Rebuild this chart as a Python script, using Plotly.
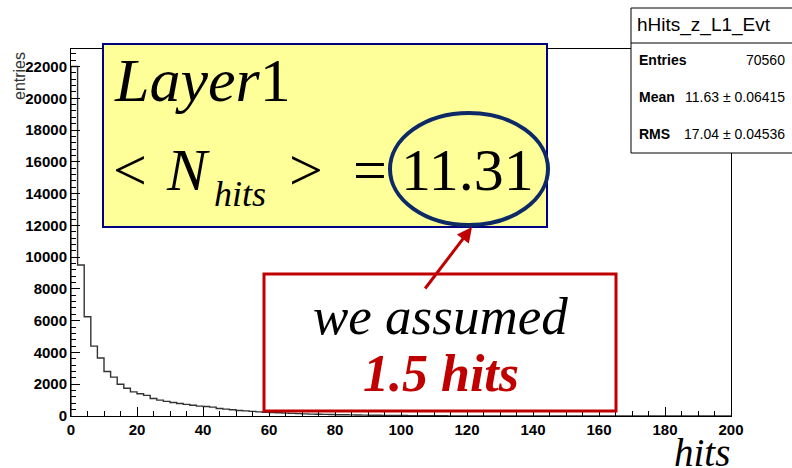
import numpy as np
import plotly.graph_objects as go

# ---------------- data ----------------
bin_width = 2
counts = [22000, 9500, 6250, 4400, 3650, 2800, 2450, 2000, 1750, 1520,
          1400, 1300, 1100, 1000, 920, 850, 790, 730, 680, 620,
          600, 560, 470, 430, 390, 350, 320, 290, 260, 240,
          220, 200, 180, 165, 150, 135, 120, 110, 100, 90,
          82, 75, 68, 62, 56, 50, 45, 40, 36, 32,
          28, 25, 22, 20, 18, 15, 13, 11, 10, 8,
          7, 6, 5, 4, 4, 3, 3, 2, 2, 2,
          1, 1, 1, 1, 1, 0, 0, 0, 0, 0,
          0, 0, 0, 0, 0, 0, 0, 0, 0, 0,
          0, 0, 0, 0, 0, 0, 0, 0, 0, 0]
edges = [i * bin_width for i in range(len(counts) + 1)]
x_ticks = [0, 20, 40, 60, 80, 100, 120, 140, 160, 180, 200]
y_ticks = [0, 2000, 4000, 6000, 8000, 10000, 12000, 14000, 16000,
           18000, 20000, 22000]
stats_title = "hHits_z_L1_Evt"
stats_rows = [("Entries", "70560"), ("Mean", "11.63 ± 0.06415"),
              ("RMS", "17.04 ± 0.04536")]
ymax = max(counts) * 1.05

# ---------------- layout helpers (pixel -> paper) ----------------
W, H = 792, 468
L, R, T, B = 71, 61, 49, 52
PW, PH = W - L - R, H - T - B
def px(x):
    return (x - L) / PW
def py(y):
    return (H - B - y) / PH

SERIF = "Liberation Serif, Times New Roman, serif"
SANS = "Liberation Sans, Arial, sans-serif"

# histogram outline: step drawn from the bin edges and counts
step_x = [edges[0]] + edges
step_y = [0] + counts + [counts[-1]]

fig = go.Figure()
fig.add_trace(go.Scatter(
    x=step_x, y=step_y,
    mode="lines", line=dict(color="#333333", width=1.4, shape="hv"),
    hoverinfo="skip", showlegend=False, cliponaxis=False))

fig.update_layout(
    width=W, height=H,
    margin=dict(l=L, r=R, t=T, b=B),
    paper_bgcolor="white", plot_bgcolor="white",
    showlegend=False,
    xaxis=dict(range=[0, 200], tickvals=x_ticks, ticktext=[str(v) for v in x_ticks],
               ticks="inside", ticklen=9, tickwidth=1, tickcolor="black",
               minor=dict(ticks="inside", dtick=5, ticklen=5, tickcolor="black"),
               showline=True, linecolor="black", linewidth=1, mirror=True,
               showgrid=False, zeroline=False,
               tickfont=dict(family=SANS, size=15, color="black", weight="bold")),
    yaxis=dict(range=[0, ymax], tickvals=y_ticks, ticktext=[str(v) for v in y_ticks],
               ticks="inside", ticklen=9, tickwidth=1, tickcolor="black",
               minor=dict(ticks="inside", dtick=400, ticklen=5, tickcolor="black"),
               showline=True, linecolor="black", linewidth=1, mirror=True,
               showgrid=False, zeroline=False,
               tickfont=dict(family=SANS, size=15, color="black", weight="bold")),
)

shapes = []
annots = []

# axis titles
annots.append(dict(xref="paper", yref="paper", x=px(732), y=py(452), xanchor="right",
                   yanchor="middle", showarrow=False,
                   text="<i>hits</i>", font=dict(family=SERIF, size=39, color="black")))
annots.append(dict(xref="paper", yref="paper", x=px(19), y=py(76), xanchor="center",
                   yanchor="middle", showarrow=False, textangle=-90,
                   text="entries", font=dict(family=SANS, size=16, color="#333333")))

# stats box
shapes.append(dict(type="rect", xref="paper", yref="paper", layer="above",
                   x0=px(631), x1=px(800), y0=py(153), y1=py(8),
                   fillcolor="white", line=dict(color="black", width=1)))
shapes.append(dict(type="line", xref="paper", yref="paper", layer="above",
                   x0=px(631), x1=px(800), y0=py(43), y1=py(43),
                   line=dict(color="black", width=1)))
annots.append(dict(xref="paper", yref="paper", x=px(635), y=py(25), xanchor="left",
                   yanchor="middle", showarrow=False, text=stats_title,
                   font=dict(family=SANS, size=19, color="black")))
for i, (lab, val) in enumerate(stats_rows):
    yy = 60 + i * 37
    annots.append(dict(xref="paper", yref="paper", x=px(637), y=py(yy), xanchor="left",
                       yanchor="middle", showarrow=False, text=lab,
                       font=dict(family=SANS, size=14, color="black", weight="bold")))
    annots.append(dict(xref="paper", yref="paper", x=px(787), y=py(yy), xanchor="right",
                       yanchor="middle", showarrow=False, text=val,
                       font=dict(family=SANS, size=14, color="black")))

# yellow box
shapes.append(dict(type="rect", xref="paper", yref="paper", layer="above",
                   x0=px(103), x1=px(547), y0=py(227), y1=py(44),
                   fillcolor="#FFFF99", line=dict(color="#000080", width=2)))
annots.append(dict(xref="paper", yref="paper", x=px(112), y=py(80), xanchor="left",
                   yanchor="middle", showarrow=False, text="<i>Layer</i>1",
                   font=dict(family=SERIF, size=62, color="black")))
big = dict(family=SERIF, size=60, color="black")
annots.append(dict(xref="paper", yref="paper", x=px(130), y=py(170), xanchor="center",
                   yanchor="middle", showarrow=False, text="&lt;", font=big))
annots.append(dict(xref="paper", yref="paper", x=px(188), y=py(170), xanchor="center",
                   yanchor="middle", showarrow=False, text="<i>N</i>", font=big))
annots.append(dict(xref="paper", yref="paper", x=px(240), y=py(194), xanchor="center",
                   yanchor="middle", showarrow=False, text="<i>hits</i>",
                   font=dict(family=SERIF, size=36, color="black")))
annots.append(dict(xref="paper", yref="paper", x=px(306), y=py(170), xanchor="center",
                   yanchor="middle", showarrow=False, text="&gt;", font=big))
annots.append(dict(xref="paper", yref="paper", x=px(370), y=py(170), xanchor="center",
                   yanchor="middle", showarrow=False, text="=", font=big))
annots.append(dict(xref="paper", yref="paper", x=px(467), y=py(170), xanchor="center",
                   yanchor="middle", showarrow=False, text="11.31", font=big))
shapes.append(dict(type="circle", xref="paper", yref="paper", layer="above",
                   x0=px(390), x1=px(548), y0=py(225), y1=py(113),
                   line=dict(color="#0D2A66", width=4)))

# red box
shapes.append(dict(type="rect", xref="paper", yref="paper", layer="above",
                   x0=px(264), x1=px(616), y0=py(411), y1=py(274),
                   fillcolor="white", line=dict(color="#C00000", width=3)))
annots.append(dict(xref="paper", yref="paper", x=px(440), y=py(316), xanchor="center",
                   yanchor="middle", showarrow=False, text="<i>we assumed</i>",
                   font=dict(family=SERIF, size=53, color="black")))
annots.append(dict(xref="paper", yref="paper", x=px(441), y=py(373), xanchor="center",
                   yanchor="middle", showarrow=False, text="<b><i>1.5 hits</i></b>",
                   font=dict(family=SERIF, size=52, color="#C00000")))
# arrow
annots.append(dict(xref="paper", yref="paper", x=px(472), y=py(227), text="",
                   showarrow=True, arrowhead=2, arrowsize=1, arrowwidth=3,
                   arrowcolor="#C00000", ax=424 - 472, ay=290 - 227, standoff=0))

fig.update_layout(shapes=shapes, annotations=annots)
fig.write_html("out.html", config={"displayModeBar": False, "staticPlot": True})

# remove default page margin so the figure sits at the window origin
with open("out.html", "r", encoding="utf-8") as f:
    html = f.read()
html = html.replace("<head>", "<head><style>html,body{margin:0;padding:0;overflow:hidden;}</style>", 1)
with open("out.html", "w", encoding="utf-8") as f:
    f.write(html)
